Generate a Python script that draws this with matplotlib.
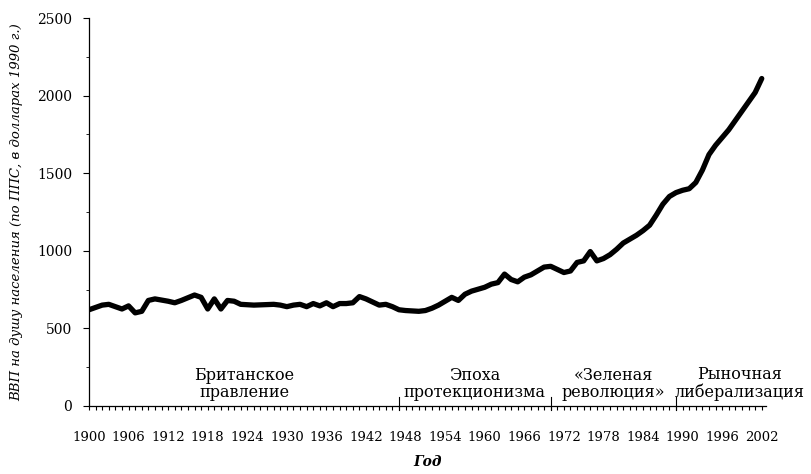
import matplotlib.pyplot as plt
from matplotlib.ticker import MultipleLocator

# India, GDP per capita (PPP, 1990 dollars)
years = [1900, 1902, 1903, 1905, 1906, 1907, 1908, 1909, 1910, 1912, 1913, 1914,
         1916, 1917, 1918, 1919, 1920, 1921, 1922, 1923, 1925, 1928, 1929, 1930,
         1931, 1932, 1933, 1934, 1935, 1936, 1937, 1938, 1939, 1940, 1941, 1942,
         1943, 1944, 1945, 1946, 1947, 1948, 1950, 1951, 1952, 1953, 1954, 1955,
         1956, 1957, 1958, 1960, 1961, 1962, 1963, 1964, 1965, 1966, 1967, 1968,
         1969, 1970, 1971, 1972, 1973, 1974, 1975, 1976, 1977, 1978, 1979, 1980,
         1981, 1982, 1983, 1984, 1985, 1986, 1987, 1988, 1989, 1990, 1991, 1992,
         1993, 1994, 1995, 1996, 1997, 1998, 1999, 2000, 2001, 2002]
gdp = [620, 650, 655, 625, 645, 600, 610, 680, 690, 675, 665, 680,
       715, 700, 625, 690, 625, 680, 675, 655, 650, 655, 650, 640,
       650, 655, 640, 660, 645, 665, 640, 660, 660, 665, 705, 690,
       670, 650, 655, 640, 620, 615, 610, 615, 630, 650, 675, 700,
       680, 720, 740, 765, 785, 795, 850, 815, 800, 830, 845, 870,
       895, 900, 880, 860, 870, 925, 935, 995, 935, 950, 975, 1010,
       1050, 1075, 1100, 1130, 1165, 1230, 1300, 1350, 1375, 1390, 1400, 1440,
       1520, 1620, 1680, 1730, 1780, 1840, 1900, 1960, 2020, 2110]

# period boundaries and their captions
period_marks = [1947, 1970, 1989]
period_names = ["Британское\nправление", "Эпоха\nпротекционизма",
                "«Зеленая\nреволюция»", "Рыночная\nлиберализация"]
caption_x = [1923.5, 1958.5, 1979.5, 1998.6]

x_labels = list(range(1900, 2003, 6))

plt.rcParams['font.family'] = ['DejaVu Serif']

fig = plt.figure(figsize=(8.12, 4.74), dpi=100)
ax = fig.add_axes([0.1096, 0.1435, 0.8334, 0.8185])

ax.plot(years, gdp, color='black', linewidth=3.8, solid_joinstyle='round',
        solid_capstyle='round')

ax.set_xlim(1900, 2002.6)
ax.set_ylim(0, 2500)

ax.spines['top'].set_visible(False)
ax.spines['right'].set_visible(False)
ax.spines['left'].set_linewidth(0.9)
ax.spines['bottom'].set_linewidth(0.9)

ax.set_xticks(x_labels)
ax.set_xticklabels([str(y) for y in x_labels])
ax.xaxis.set_minor_locator(MultipleLocator(1))
ax.tick_params(axis='x', which='both', direction='out', length=3, width=0.8,
               labelsize=9.5, pad=15)
ax.set_yticks(range(0, 2501, 500))
ax.yaxis.set_minor_locator(MultipleLocator(250))
ax.tick_params(axis='y', which='major', direction='out', length=4, width=0.8,
               labelsize=10, pad=8)
ax.tick_params(axis='y', which='minor', direction='out', length=2, width=0.6)

# period division marks and captions
for m in period_marks:
    ax.plot([m, m], [-25, 60], color='black', linewidth=0.8, clip_on=False)
for cx, name in zip(caption_x, period_names):
    ax.text(cx, 30, name, ha='center', va='bottom', fontsize=11.5,
            linespacing=1.05)

ax.set_xlabel("Год", fontsize=10, style='italic', fontweight='bold', labelpad=8)
ax.set_ylabel("ВВП на душу населения (по ППС, в долларах 1990 г.)", fontsize=9.5,
              style='italic', labelpad=10)

plt.savefig('out.png', dpi=100)
